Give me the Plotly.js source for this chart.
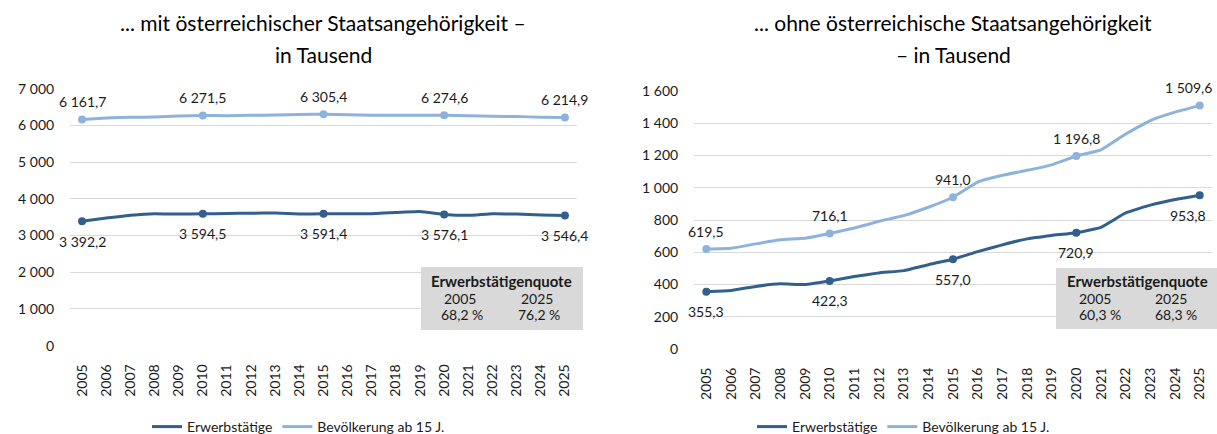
<!DOCTYPE html>
<html>
<head>
<meta charset="utf-8">
<script src="https://cdn.plot.ly/plotly-3.0.1.min.js"></script>
<style>html,body{margin:0;padding:0;background:#fff;}#chart{width:1217px;height:434px;}</style>
</head>
<body>
<div id="chart"></div>
<script>
// ---- data ----
const years = ["2005","2006","2007","2008","2009","2010","2011","2012","2013","2014","2015","2016","2017","2018","2019","2020","2021","2022","2023","2024","2025"];
const labeledYears = ["2005","2010","2015","2020","2025"];

// mit österreichischer Staatsangehörigkeit (in Tausend)
const mitErwerbstaetige = [3392.2,3477,3550,3595,3585,3594.5,3600,3610,3612,3585,3591.4,3595,3597,3630,3655,3576.1,3550,3595,3585,3560,3546.4];
const mitBevoelkerung   = [6161.7,6205,6220,6230,6255,6271.5,6265,6275,6285,6295,6305.4,6290,6280,6278,6280,6274.6,6265,6250,6240,6225,6214.9];

// ohne österreichische Staatsangehörigkeit (in Tausend)
const ohneErwerbstaetige = [355.3,363,388,404,400,422.3,449,472,486,523,557.0,604,646,683,704,720.9,754,844,892,927,953.8];
const ohneBevoelkerung   = [619.5,625,652,677,687,716.1,750,792,827,879,941.0,1035,1077,1108,1142,1196.8,1235,1333,1417,1469,1509.6];

const seriesNames = ["Erwerbstätige","Bevölkerung ab 15 J."];
const titlesLeft  = ["... mit österreichischer Staatsangehörigkeit –","in Tausend"];
const titlesRight = ["... ohne österreichische Staatsangehörigkeit","– in Tausend"];
const quoteTitle = "Erwerbstätigenquote";
const quoteYears = ["2005","2025"];
const quoteLeft  = ["68,2 %","76,2 %"];
const quoteRight = ["60,3 %","68,3 %"];

// ---- style ----
const W = 1217, H = 434;
const cDark = "#325f8c", cLight = "#8db3dc";
const FONT = "Lato, 'Noto Sans', sans-serif";
const TXT = "#1a1a1a";
const px = v => v / W;
const py = v => 1 - v / H;

function fmt(v){
  const s = v.toFixed(1).split(".");
  const int = s[0].replace(/\B(?=(\d{3})+(?!\d))/g, " ");
  return int + "," + s[1];
}
function pick(arr){ return years.map((y,i)=>labeledYears.includes(y)?arr[i]:null); }

const traces = [];
function addSeries(vals, color, name, xa, ya, legendId){
  traces.push({x: years, y: vals, type:"scatter", mode:"lines", name: name,
    line:{color: color, width: 3, shape:"spline", smoothing:0.3}, xaxis: xa, yaxis: ya, legend: legendId, hoverinfo:"skip"});
  traces.push({x: years, y: pick(vals), type:"scatter", mode:"markers", showlegend:false,
    marker:{color: color, size: 8}, xaxis: xa, yaxis: ya, hoverinfo:"skip"});
}
addSeries(mitErwerbstaetige, cDark, seriesNames[0], "x", "y", "legend");
addSeries(mitBevoelkerung, cLight, seriesNames[1], "x", "y", "legend");
addSeries(ohneErwerbstaetige, cDark, seriesNames[0], "x2", "y2", "legend2");
addSeries(ohneBevoelkerung, cLight, seriesNames[1], "x2", "y2", "legend2");

const annotations = [];
function addLabels(vals, xref, yref, above, lastShift){
  years.forEach((y,i)=>{
    if(!labeledYears.includes(y)) return;
    annotations.push({x: i, y: vals[i], xref: xref, yref: yref, text: fmt(vals[i]), showarrow:false,
      xanchor:"center", yanchor:"middle", yshift: above ? 18 : -20,
      xshift: (i === years.length-1) ? lastShift : 0,
      font:{family: FONT, size: 14, color: TXT}});
  });
}
addLabels(mitBevoelkerung, "x", "y", true, 0);
addLabels(mitErwerbstaetige, "x", "y", false, 0);
addLabels(ohneBevoelkerung, "x2", "y2", true, -11);
addLabels(ohneErwerbstaetige, "x2", "y2", false, -12);

function txt(text, x, y, opts){
  annotations.push(Object.assign({xref:"paper", yref:"paper", x: px(x), y: py(y), text: text, showarrow:false,
    xanchor:"center", yanchor:"middle", font:{family: FONT, size: 14, color: TXT}}, opts||{}));
}
const titleFont = {family: FONT, size: 21, color:"#000"};
txt(titlesLeft[0], 323, 22, {font: titleFont});
txt(titlesLeft[1], 323, 55, {font: titleFont});
txt(titlesRight[0], 953, 22, {font: titleFont});
txt(titlesRight[1], 953, 55, {font: titleFont});
// quote boxes
const bold = {family: FONT, size: 15, color: TXT};
txt("<b>"+quoteTitle+"</b>", 501, 281, {font: bold});
txt(quoteYears[0], 460, 298);
txt(quoteYears[1], 537, 298);
txt(quoteLeft[0], 462, 314);
txt(quoteLeft[1], 539, 314);
txt("<b>"+quoteTitle+"</b>", 1137, 281, {font: bold});
txt(quoteYears[0], 1077, 298, {xanchor:"left"});
txt(quoteYears[1], 1153, 298, {xanchor:"left"});
txt(quoteRight[0], 1077, 314, {xanchor:"left"});
txt(quoteRight[1], 1153, 314, {xanchor:"left"});

const shapes = [
  {type:"rect", xref:"paper", yref:"paper", x0: px(421), x1: px(583), y0: py(330), y1: py(267), fillcolor:"#d9d9d9", line:{width:0}, layer:"below"},
  {type:"rect", xref:"paper", yref:"paper", x0: px(1056), x1: px(1217), y0: py(329), y1: py(268), fillcolor:"#d9d9d9", line:{width:0}, layer:"below"}
];

const xBase = {type:"category", range:[-0.5, 20.5], tickangle:-90, showgrid:false, zeroline:false, showline:false, automargin:false,
  ticks:"outside", ticklen:12, tickcolor:"rgba(0,0,0,0)", tickfont:{family: FONT, size:14, color: TXT}, fixedrange:true};
const yBase = {showgrid:true, gridcolor:"#d9d9d9", gridwidth:1, zeroline:false, showline:false, automargin:false,
  ticks:"outside", ticklen:12, tickcolor:"rgba(0,0,0,0)", tickformat:",", separatethousands:true,
  tickfont:{family: FONT, size:14, color: TXT}, fixedrange:true};

const legBase = {orientation:"h", xanchor:"left", y: py(411), yanchor:"top", font:{family: FONT, size:14, color: TXT},
  bgcolor:"rgba(0,0,0,0)", itemwidth:30, tracegroupgap:0};

const layout = {
  width: W, height: H, margin:{l:0,r:0,t:0,b:0, autoexpand:false}, paper_bgcolor:"#fff", plot_bgcolor:"rgba(0,0,0,0)",
  separators: ", ",
  font:{family: FONT, size:14, color: TXT},
  xaxis: Object.assign({}, xBase, {domain:[px(70), px(577)], anchor:"y"}),
  yaxis: Object.assign({}, yBase, {domain:[py(345.7), py(88.7)], range:[0,7000], dtick:1000, anchor:"x"}),
  xaxis2: Object.assign({}, xBase, {domain:[px(694), px(1212)], anchor:"y2"}),
  yaxis2: Object.assign({}, yBase, {domain:[py(349), py(91)], range:[0,1600], dtick:200, anchor:"x2"}),
  legend: Object.assign({}, legBase, {x: px(147)}),
  legend2: Object.assign({}, legBase, {x: px(752)}),
  annotations: annotations,
  shapes: shapes,
  showlegend: true
};

Plotly.newPlot("chart", traces, layout, {displayModeBar:false, staticPlot:true});
</script>
</body>
</html>
